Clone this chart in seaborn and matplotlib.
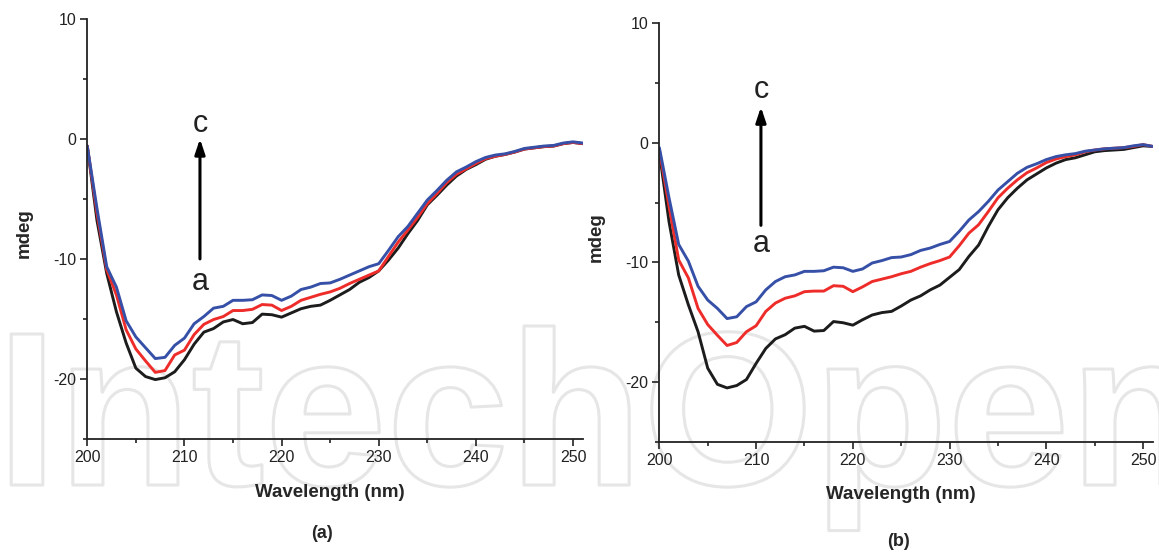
import numpy as np
import pandas as pd
import matplotlib
matplotlib.use("Agg")
import matplotlib.pyplot as plt
import matplotlib.patheffects as pe
from matplotlib.ticker import MultipleLocator
import seaborn as sns

sns.set_style("ticks")
plt.rcParams['font.family'] = ['Liberation Sans', 'DejaVu Sans']
plt.rcParams['axes.unicode_minus'] = False

wavelength = list(range(200, 252))

a_black = [-0.6, -6.8, -11.2, -14.4, -17.0, -19.1, -19.8, -20.05, -19.9, -19.4,
           -18.4, -17.1, -16.1, -15.8, -15.25, -15.05, -15.4, -15.3, -14.6, -14.65,
           -14.85, -14.5, -14.15, -13.95, -13.85, -13.45, -13.0, -12.55, -11.95, -11.55,
           -11.0, -10.1, -9.1, -7.9, -6.8, -5.5, -4.7, -3.85, -3.1, -2.55,
           -2.15, -1.7, -1.45, -1.3, -1.1, -0.85, -0.75, -0.65, -0.6, -0.4,
           -0.3, -0.4]
a_red = [-0.6, -6.2, -10.9, -13.0, -15.9, -17.5, -18.5, -19.45, -19.3, -18.0,
         -17.6, -16.3, -15.45, -15.05, -14.8, -14.3, -14.3, -14.2, -13.8, -13.85,
         -14.3, -13.95, -13.45, -13.2, -12.95, -12.75, -12.45, -12.05, -11.7, -11.35,
         -11.0, -9.8, -8.6, -7.6, -6.55, -5.4, -4.55, -3.65, -2.95, -2.5,
         -2.05, -1.65, -1.45, -1.3, -1.1, -0.85, -0.75, -0.65, -0.6, -0.4,
         -0.3, -0.4]
a_blue = [-0.6, -5.8, -10.65, -12.35, -15.15, -16.5, -17.4, -18.3, -18.2, -17.2,
          -16.6, -15.4, -14.8, -14.1, -13.95, -13.45, -13.45, -13.4, -13.0, -13.05,
          -13.45, -13.1, -12.55, -12.35, -12.05, -12.0, -11.7, -11.35, -11.0, -10.65,
          -10.4, -9.3, -8.15, -7.3, -6.2, -5.1, -4.3, -3.45, -2.75, -2.35,
          -1.9, -1.55, -1.35, -1.25, -1.05, -0.8, -0.7, -0.6, -0.55, -0.35,
          -0.25, -0.35]

b_black = [-0.8, -6.6, -11.05, -13.55, -15.8, -18.85, -20.2, -20.5, -20.3, -19.8,
           -18.45, -17.2, -16.4, -16.05, -15.5, -15.35, -15.75, -15.7, -14.95, -15.05,
           -15.25, -14.8, -14.4, -14.2, -14.1, -13.65, -13.15, -12.8, -12.3, -11.9,
           -11.25, -10.6, -9.5, -8.55, -7.0, -5.6, -4.6, -3.8, -3.1, -2.6,
           -2.1, -1.7, -1.4, -1.25, -1.0, -0.75, -0.65, -0.6, -0.55, -0.4,
           -0.25, -0.3]
b_red = [-0.6, -5.3, -9.8, -11.3, -13.85, -15.2, -16.1, -16.95, -16.7, -15.8,
         -15.3, -14.1, -13.4, -13.0, -12.8, -12.45, -12.4, -12.4, -11.95, -12.0,
         -12.45, -12.05, -11.6, -11.4, -11.2, -10.95, -10.75, -10.4, -10.1, -9.85,
         -9.55, -8.6, -7.55, -6.85, -5.75, -4.6, -3.8, -3.1, -2.5, -2.1,
         -1.65, -1.35, -1.15, -1.0, -0.75, -0.6, -0.5, -0.45, -0.4, -0.3,
         -0.15, -0.3]
b_blue = [-0.4, -4.6, -8.5, -9.9, -12.0, -13.15, -13.85, -14.7, -14.55, -13.7,
          -13.3, -12.3, -11.6, -11.2, -11.05, -10.75, -10.75, -10.7, -10.4, -10.45,
          -10.75, -10.55, -10.05, -9.85, -9.6, -9.55, -9.35, -9.0, -8.8, -8.5,
          -8.25, -7.4, -6.45, -5.75, -4.9, -3.95, -3.25, -2.55, -2.05, -1.75,
          -1.4, -1.15, -1.0, -0.9, -0.7, -0.6, -0.5, -0.45, -0.4, -0.25,
          -0.15, -0.3]

x_ticks = [200, 210, 220, 230, 240, 250]
y_ticks = [-20, -10, 0, 10]
panel_labels = ["(a)", "(b)"]
colors = {"a": "#1c1c1c", "b": "#ee2d2a", "c": "#3650a8"}

fig = plt.figure(figsize=(11.59, 5.52), dpi=100)

# watermark (outlined, behind everything)
fig.text(-0.003, 1 - 485 / 552, "IntechOpen", ha="left", va="baseline", fontsize=158,
         family="Liberation Sans", fontweight="bold", color="none", zorder=-5,
         path_effects=[pe.Stroke(linewidth=2.2, foreground="#e6e6e6")])

ax1 = fig.add_axes([0.0753, 0.2047, 0.4275, 0.7613])
ax2 = fig.add_axes([0.5689, 0.1998, 0.4257, 0.758])

panels = [
    (ax1, a_black, a_red, a_blue, (211.6, -10.0, 0.0, 0.6, -12.55), -0.107),
    (ax2, b_black, b_red, b_blue, (210.5, -6.9, 3.0, 3.75, -9.1), -0.105),
]

for i, (ax, blk, red, blu, arr, xly) in enumerate(panels):
    ax.patch.set_alpha(0)
    df = pd.DataFrame({"wl": wavelength * 3,
                       "mdeg": blk + red + blu,
                       "s": ["a"] * len(blk) + ["b"] * len(red) + ["c"] * len(blu)})
    sns.lineplot(data=df, x="wl", y="mdeg", hue="s", palette=colors,
                 linewidth=2.1, ax=ax, legend=False)
    ax.set_xlim(200, 251)
    ax.set_ylim(-25, 10)
    ax.set_xticks(x_ticks)
    ax.set_yticks(y_ticks)
    ax.xaxis.set_minor_locator(MultipleLocator(5))
    ax.yaxis.set_minor_locator(MultipleLocator(5))
    ax.tick_params(which="major", direction="out", length=5, width=1.2,
                   labelsize=11.5, colors="#222222", pad=3)
    ax.tick_params(which="minor", direction="out", length=3, width=1.2, colors="#222222")
    for s in ["top", "right"]:
        ax.spines[s].set_visible(False)
    for s in ["left", "bottom"]:
        ax.spines[s].set_linewidth(1.3)
        ax.spines[s].set_color("#222222")
    ax.set_xlabel("Wavelength (nm)", fontsize=13.5, fontweight="bold")
    ax.set_ylabel("mdeg", fontsize=13.5, fontweight="bold")
    ax.xaxis.set_label_coords(0.49, xly)
    ax.yaxis.set_label_coords(-0.110, 0.49)
    xa, y0, y1, yc, ya = arr
    ax.annotate("", xy=(xa, y1), xytext=(xa, y0),
                arrowprops=dict(arrowstyle="-|>,head_length=0.9,head_width=0.3",
                                color="black", lw=2.2, shrinkA=0, shrinkB=0))
    ax.text(xa, yc, "c", ha="center", va="baseline", fontsize=22, color="#222222")
    ax.text(xa, ya, "a", ha="center", va="baseline", fontsize=22, color="#222222")

fig.text(322 / 1159, 1 - 534 / 552, panel_labels[0], ha="center", va="center",
         fontsize=13, fontweight="bold")
fig.text(898 / 1159, 1 - 541 / 552, panel_labels[1], ha="center", va="center",
         fontsize=13, fontweight="bold")

fig.savefig("out.png", dpi=100)
